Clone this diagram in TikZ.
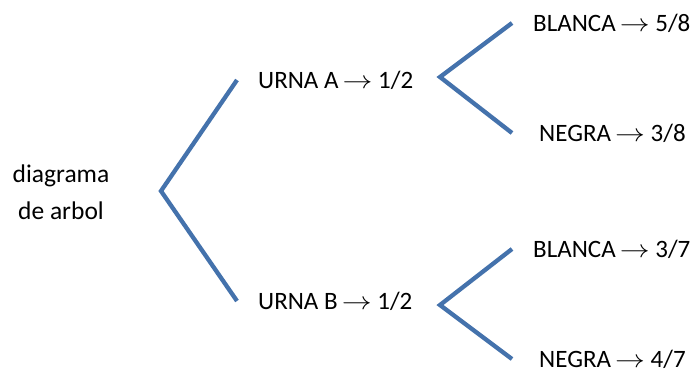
\documentclass[tikz,border=0pt]{standalone}
\usepackage{fontspec}
\setmainfont{Carlito}
\usepackage{xcolor}
\usepackage{graphicx}
\usetikzlibrary{positioning}
\definecolor{branchblue}{RGB}{68,114,172}
\newcommand{\tto}{\,\scalebox{1.2}[1]{$\rightarrow$}\ }

\begin{document}
\begin{tikzpicture}[x=1pt,y=-1pt,
  branch/.style={draw=branchblue, line width=4.3pt},
  leaf/.style={anchor=west, inner xsep=21pt, font=\fontsize{25}{30}\selectfont}]
\useasboundingbox (0,0) rectangle (700,376);
%root
\node[align=center, font=\fontsize{25.5}{37}\selectfont] (root) at (61,192) {diagrama\\de arbol};
\coordinate (forkR) at (161,191);

%urns
\node[leaf] (urnaA) at (237,80) {URNA A\tto 1/2};
\node[leaf] (urnaB) at (237,301) {URNA B\tto 1/2};
\draw[branch] (urnaA.west) -- (forkR) -- (urnaB.west);

%urn A
\coordinate (forkA) at (440,77);
\node[leaf] (blancaA) at (512,23) {BLANCA\tto 5/8};
\node[leaf, inner xsep=27pt] (negraA) at (512,133) {NEGRA\tto 3/8};
\draw[branch] (blancaA.west) -- (forkA) -- (negraA.west);

%urn B
\coordinate (forkB) at (440,305);
\node[leaf] (blancaB) at (512,249) {BLANCA\tto 3/7};
\node[leaf, inner xsep=27pt] (negraB) at (512,359) {NEGRA\tto 4/7};
\draw[branch] (blancaB.west) -- (forkB) -- (negraB.west);
\end{tikzpicture}
\end{document}
